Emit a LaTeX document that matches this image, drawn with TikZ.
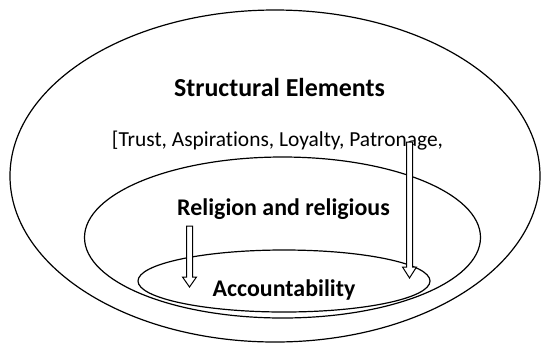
\documentclass[tikz,border=0pt]{standalone}
\usepackage{fontspec}
\setmainfont[Ligatures=NoCommon]{Carlito}
\begin{document}
\begin{tikzpicture}[x=1bp,y=-1bp,
  ring/.style={draw=black,line width=1.2bp},
  head/.style={font=\fontsize{26}{30}\selectfont\bfseries,inner sep=0pt,anchor=base},
  sub/.style={font=\fontsize{24}{28}\selectfont\bfseries,inner sep=0pt,anchor=base},
  plain/.style={font=\fontsize{21.5}{25}\selectfont,inner sep=0pt,anchor=base},
  blockarrow/.style={draw=black,fill=white,line width=1bp,line join=miter}]
\useasboundingbox (0,0) rectangle (542,345);
% nested ellipses
\draw[ring] (275,176) ellipse [x radius=265,y radius=166];
\draw[ring] (282.5,237.5) ellipse [x radius=198,y radius=80.5];
\draw[ring] (284,281) ellipse [x radius=146,y radius=31];
% labels
\node[head] (se) at (279.5,96.5) {Structural Elements};
\node[plain] (list) at (277.5,146.5) {[Trust, Aspirations, Loyalty, Patronage,};
\node[sub] (rel) at (283.5,215) {Religion and religious};
\node[sub] (acc) at (284,296) {Accountability};
% hollow block arrows
\coordinate (la) at (189.5,226);
\coordinate (ra) at (409.5,142);
\draw[blockarrow] (la) ++(-3,0) -- ++(0,51) -- ++(-4,0) -- ++(7,10) -- ++(7,-10) -- ++(-4,0) -- ++(0,-51) -- cycle;
\draw[blockarrow] (ra) ++(-3,0) -- ++(0,125) -- ++(-4,0) -- ++(7,11) -- ++(7,-11) -- ++(-4,0) -- ++(0,-125) -- cycle;
\end{tikzpicture}
\end{document}
